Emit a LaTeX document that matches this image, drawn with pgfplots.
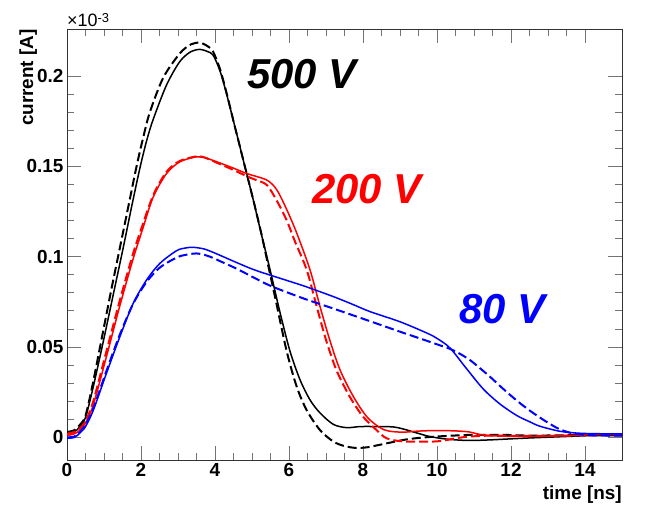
\documentclass[border=0pt]{standalone}
\usepackage{fontspec}
\setmainfont{Liberation Sans}
\usepackage{pgfplots}
\pgfplotsset{compat=1.18}
\begin{document}
\begin{tikzpicture}
\begin{axis}[
 at={(0,0)}, anchor=south west,
 scale only axis, width=555bp, height=431bp,
 xmin=0, xmax=15, ymin=-0.0125, ymax=0.226,
 xtick={0,2,...,14}, ytick={0,0.05,0.1,0.15,0.2},
 minor x tick num=3, minor y tick num=4,
 scaled y ticks=false,
 yticklabel style={/pgf/number format/fixed, /pgf/number format/precision=2},
 tick label style={font=\bfseries\fontsize{19}{19}\selectfont},
 /pgf/number format/assume math mode=true,
 major tick length=14bp, minor tick length=7bp,
 tick style={black!55, line width=0.9bp},
 axis line style={black!80, line width=0.9bp},
 every axis plot/.append style={smooth},
]
% 500 V solid
\addplot[black, line width=1.5bp] coordinates {
(0,0.002)(0.2,0.003)(0.35,0.006)(0.5,0.011)(0.71,0.028)(0.98,0.053)(1.25,0.079)(1.52,0.105)(1.75,0.128)(1.97,0.149)(2.15,0.164)(2.33,0.176)(2.69,0.195)(3.05,0.208)(3.35,0.2135)(3.6,0.2147)(3.8,0.2135)(3.95,0.2115)(4.14,0.2025)(4.32,0.1895)(4.5,0.175)(4.77,0.153)(5.04,0.131)(5.2,0.117)(5.49,0.0926)(5.76,0.0689)(6.03,0.0475)(6.3,0.0318)(6.57,0.0207)(6.84,0.0135)(7.2,0.0072)(7.56,0.0054)(7.92,0.006)(8.4,0.006)(8.82,0.0058)(9.08,0.0047)(9.45,0.0025)(9.8,0.0005)(10.2,-0.0008)(10.53,-0.0014)(10.9,-0.0017)(11.4,-0.0014)(11.8,-0.001)(12.5,-0.0003)(13.5,0.0005)(14.2,0.001)(15,0.001)};
% 500 V dashed
\addplot[black, line width=2bp, dash pattern=on 9bp off 4bp] coordinates {
(0,0.003)(0.2,0.004)(0.35,0.007)(0.5,0.012)(0.7,0.030)(0.95,0.056)(1.2,0.082)(1.45,0.107)(1.67,0.129)(1.88,0.150)(2.06,0.166)(2.24,0.180)(2.6,0.199)(3.05,0.2125)(3.35,0.2175)(3.59,0.2184)(3.8,0.2165)(3.95,0.2134)(4.14,0.2035)(4.32,0.1900)(4.5,0.175)(4.77,0.153)(5.04,0.131)(5.25,0.113)(5.45,0.094)(5.62,0.078)(5.94,0.0475)(6.21,0.028)(6.48,0.015)(6.84,0.004)(7.2,-0.0023)(7.5,-0.0048)(7.8,-0.0058)(8.1,-0.0055)(8.45,-0.0041)(9.09,-0.0014)(9.5,-0.0003)(10,0.0005)(10.9,0.0014)(11.8,0.0014)(12.5,0.001)(13.5,0.0012)(14.2,0.0015)(15,0.0015)};
% 200 V solid
\addplot[red, line width=1.5bp] coordinates {
(0,0.001)(0.2,0.002)(0.35,0.004)(0.5,0.008)(0.71,0.018)(1.07,0.045)(1.43,0.073)(1.79,0.099)(2.04,0.115)(2.33,0.133)(2.69,0.146)(3.05,0.1525)(3.5,0.1553)(3.7,0.155)(4.05,0.1525)(4.5,0.149)(4.86,0.146)(5.4,0.1424)(5.67,0.137)(5.94,0.126)(6.21,0.113)(6.57,0.0926)(6.84,0.0723)(7.1,0.054)(7.38,0.0373)(7.74,0.0226)(8.1,0.0115)(8.45,0.0055)(8.7,0.0035)(9.09,0.0029)(9.5,0.0035)(9.98,0.0038)(10.5,0.0036)(10.88,0.0030)(11.16,0.0016)(11.6,0.0008)(12.5,0.0005)(13.5,0.001)(14.3,0.0015)(15,0.0015)};
% 200 V dashed
\addplot[red, line width=2bp, dash pattern=on 9bp off 4bp] coordinates {
(0,0.002)(0.2,0.003)(0.35,0.005)(0.5,0.009)(0.71,0.020)(1.07,0.048)(1.43,0.076)(1.79,0.102)(2.0,0.115)(2.33,0.134)(2.69,0.147)(3.05,0.153)(3.5,0.1555)(3.7,0.155)(4.05,0.152)(4.5,0.148)(4.86,0.1445)(5.1,0.1425)(5.4,0.1397)(5.67,0.131)(5.94,0.120)(6.15,0.109)(6.48,0.0926)(6.75,0.0723)(7.0,0.054)(7.28,0.0373)(7.64,0.0226)(8.0,0.0115)(8.37,0.004)(8.64,-0.0005)(9.09,-0.0022)(10,-0.0022)(10.5,-0.0005)(10.9,0.0005)(11.5,0.001)(12.5,0.0008)(13.5,0.001)(14.3,0.0012)(15,0.0012)};
% 80 V solid
\addplot[blue, line width=1.5bp] coordinates {
(0,-0.0005)(0.2,0.000)(0.35,0.0025)(0.5,0.006)(0.71,0.015)(1.07,0.0357)(1.43,0.0558)(1.79,0.0742)(2.15,0.0871)(2.51,0.0963)(2.96,0.1033)(3.2,0.1048)(3.41,0.1052)(3.7,0.1043)(3.95,0.1024)(4.2,0.1002)(4.5,0.0975)(5.0,0.0932)(5.4,0.0904)(5.92,0.0870)(6.46,0.0834)(7.2,0.0779)(7.7,0.0738)(8.19,0.0696)(9.0,0.0640)(9.72,0.0578)(10.0,0.0548)(10.35,0.0495)(10.8,0.0380)(11.25,0.0268)(11.7,0.0185)(12.15,0.0122)(12.5,0.0087)(12.78,0.0062)(13.32,0.0034)(13.86,0.0023)(14.5,0.002)(15,0.002)};
% 80 V dashed
\addplot[blue, line width=2bp, dash pattern=on 9bp off 4bp] coordinates {
(0,0.000)(0.2,0.0005)(0.35,0.003)(0.5,0.007)(0.71,0.016)(1.07,0.037)(1.43,0.057)(1.79,0.074)(2.15,0.086)(2.51,0.094)(2.96,0.0995)(3.2,0.1010)(3.5,0.1018)(3.75,0.1008)(3.95,0.0993)(4.14,0.0975)(4.6,0.0932)(5.4,0.0848)(5.92,0.0805)(6.46,0.0764)(7.2,0.0713)(8.19,0.0643)(9.0,0.0585)(9.72,0.0535)(10.0,0.0515)(10.35,0.0490)(10.6,0.0465)(10.89,0.0428)(11.15,0.0385)(11.43,0.0336)(11.7,0.0285)(11.97,0.0236)(12.24,0.0190)(12.51,0.0148)(12.78,0.0110)(13.05,0.0075)(13.32,0.0045)(13.68,0.0022)(14.2,0.0012)(15,0.001)};
\node[font=\bfseries\itshape\fontsize{42}{42}\selectfont, anchor=base, text=black] at (axis cs:6.35,0.1933) {500 V};
\node[font=\bfseries\itshape\fontsize{42}{42}\selectfont, anchor=base, text=red] at (axis cs:8.10,0.1297) {200 V};
\node[font=\bfseries\itshape\fontsize{42}{42}\selectfont, anchor=base, text=blue] at (axis cs:11.76,0.0633) {80 V};
\end{axis}
\node[rotate=90, anchor=base east, inner sep=0pt, font=\bfseries\fontsize{19}{19}\selectfont] at (-34bp,431bp) {current [A]};
\node[anchor=base east, inner sep=0pt, font=\bfseries\fontsize{19}{19}\selectfont] at (555bp,-39bp) {time [ns]};
\node[anchor=base west, inner sep=0pt, font=\fontsize{18}{18}\selectfont] at (0bp,433bp) {×10\raisebox{4.5bp}{\fontsize{13}{13}\selectfont -3}};
\pgfresetboundingbox
\path[use as bounding box] (-67bp,-48bp) rectangle (582bp,460bp);
\end{tikzpicture}
\end{document}
